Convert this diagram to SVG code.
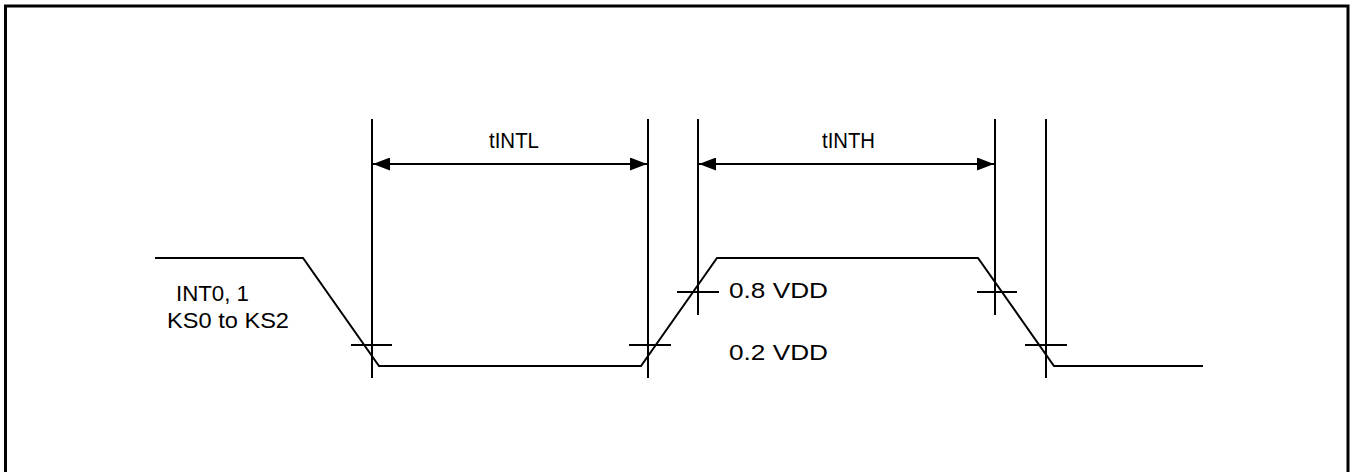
<svg xmlns="http://www.w3.org/2000/svg" width="1353" height="472" viewBox="0 0 1353 472">
<style>
.ln{stroke:#000;stroke-width:2;fill:none}
.tx{font-family:"Liberation Sans",Arial,sans-serif;font-size:22.5px;fill:#000}
</style>
<defs>
<marker id="ah" viewBox="0 0 17 13" refX="17" refY="6.5" markerWidth="17" markerHeight="13" markerUnits="userSpaceOnUse" orient="auto-start-reverse">
<path d="M0,0 L17,6.5 L0,13 Z" fill="#000"/>
</marker>
</defs>
<rect x="0" y="0" width="1353" height="472" fill="#fff"/>
<rect x="5.5" y="6" width="1342.5" height="480" fill="none" stroke="#000" stroke-width="3"/>
<g id="waveform">
<polyline class="ln" points="155,258 303,258 379,366 641,366 717,258 978,258 1054,366 1203,366"/>
</g>
<g id="guides">
<line class="ln" x1="372" y1="119" x2="372" y2="378"/>
<line class="ln" x1="648" y1="119" x2="648" y2="378"/>
<line class="ln" x1="698" y1="119" x2="698" y2="315"/>
<line class="ln" x1="995" y1="119" x2="995" y2="315"/>
<line class="ln" x1="1046" y1="119" x2="1046" y2="378"/>
</g>
<g id="ticks">
<line class="ln" x1="351" y1="345" x2="392" y2="345"/>
<line class="ln" x1="629" y1="345" x2="671" y2="345"/>
<line class="ln" x1="677" y1="292" x2="719" y2="292"/>
<line class="ln" x1="977" y1="292" x2="1017" y2="292"/>
<line class="ln" x1="1025" y1="345" x2="1067" y2="345"/>
</g>
<g id="connectors">
<line class="ln" x1="373" y1="164" x2="647" y2="164" marker-start="url(#ah)" marker-end="url(#ah)"/>
<line class="ln" x1="699" y1="164" x2="994" y2="164" marker-start="url(#ah)" marker-end="url(#ah)"/>
</g>
<g id="labels">
<text class="tx" x="489" y="148" textLength="50" lengthAdjust="spacingAndGlyphs">tINTL</text>
<text class="tx" x="822" y="148" textLength="53" lengthAdjust="spacingAndGlyphs">tINTH</text>
<text class="tx" x="176" y="301" textLength="73" lengthAdjust="spacingAndGlyphs">INT0, 1</text>
<text class="tx" x="167" y="328" textLength="122" lengthAdjust="spacingAndGlyphs">KS0 to KS2</text>
<text class="tx" x="729" y="298" textLength="99" lengthAdjust="spacingAndGlyphs">0.8 VDD</text>
<text class="tx" x="729" y="360" textLength="99" lengthAdjust="spacingAndGlyphs">0.2 VDD</text>
</g>
</svg>
